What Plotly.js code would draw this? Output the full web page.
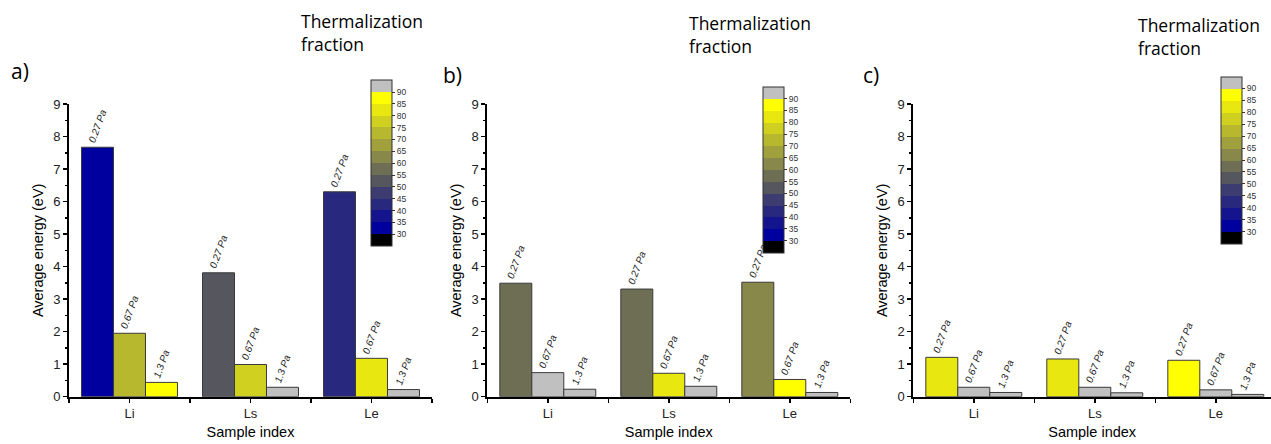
<!DOCTYPE html>
<html><head><meta charset="utf-8">
<script src="https://cdn.plot.ly/plotly-3.0.1.min.js"></script>
<style>html,body{margin:0;padding:0;background:#fff}#chart{width:1271px;height:444px}</style>
</head><body><div id="chart"></div>
<script>
// ---- data ----
const categories = ['Li', 'Ls', 'Le'];
const pressures = ['0.27 Pa', '0.67 Pa', '1.3 Pa'];
const panelLabels = ['a)', 'b)', 'c)'];

// Average energy (eV), panel a
const a_energy_027 = [7.67, 3.81, 6.30];
const a_energy_067 = [1.95, 0.99, 1.18];
const a_energy_13  = [0.44, 0.29, 0.22];
// Thermalization fraction (%), panel a
const a_frac_027 = [32, 52, 42];
const a_frac_067 = [72, 77, 82];
const a_frac_13  = [87, 92, 92];

// panel b
const b_energy_027 = [3.49, 3.31, 3.52];
const b_energy_067 = [0.74, 0.72, 0.53];
const b_energy_13  = [0.23, 0.32, 0.13];
const b_frac_027 = [57, 57, 62];
const b_frac_067 = [92, 82, 87];
const b_frac_13  = [92, 92, 92];

// panel c
const c_energy_027 = [1.21, 1.16, 1.12];
const c_energy_067 = [0.29, 0.29, 0.21];
const c_energy_13  = [0.13, 0.12, 0.07];
const c_frac_027 = [82, 82, 87];
const c_frac_067 = [92, 92, 92];
const c_frac_13  = [92, 92, 92];

// colour levels of the thermalization-fraction scale
const levelMin = 25, levelMax = 95;
const levelColors = ['#000000', '#00009f', '#14148f', '#28287f', '#3c3c70', '#56565f', '#6e6e55',
                     '#88884a', '#a0a03c', '#b8b82e', '#d0d020', '#e8e810', '#ffff00', '#c0c0c0'];
const colorbarTicks = [30, 35, 40, 45, 50, 55, 60, 65, 70, 75, 80, 85, 90];

// ---- build ----
const W = 1271, H = 444;
const colorscale = [];
levelColors.forEach((c, i) => {
  colorscale.push([i / levelColors.length, c]);
  colorscale.push([(i + 1) / levelColors.length, c]);
});

const panels = [
  {E: [a_energy_027, a_energy_067, a_energy_13], F: [a_frac_027, a_frac_067, a_frac_13]},
  {E: [b_energy_027, b_energy_067, b_energy_13], F: [b_frac_027, b_frac_067, b_frac_13]},
  {E: [c_energy_027, c_energy_067, c_energy_13], F: [c_frac_027, c_frac_067, c_frac_13]}
];

// pixel geometry
const axLeft = [69, 487.3, 913.3];
const catPx = 121;
const y0px = 396.7, y9px = 104;
const cbX = [370.7, 763.3, 1220.7];
const cbTop = [80.3, 86.7, 76.7];
const cbBot = [246, 252.7, 243.3];
const titleX = [299, 687.3, 1136];
const titleY = [7, 9, 11];
const labelX = [9, 441, 861];
const labelY = [55, 59, 59];

const xpos = categories.map((c, i) => i);
const data = [];
const layout = {
  width: W, height: H,
  margin: {l: 0, r: 0, t: 0, b: 0},
  paper_bgcolor: '#fff', plot_bgcolor: 'rgba(0,0,0,0)',
  showlegend: false,
  barmode: 'group', bargap: 0.207, bargroupgap: 0,
  font: {family: 'Liberation Sans, Arial, sans-serif', color: '#000'},
  annotations: []
};

panels.forEach((p, k) => {
  const sfx = k === 0 ? '' : String(k + 1);
  const ca = 'coloraxis' + sfx;
  p.E.forEach((vals, j) => {
    data.push({
      type: 'bar', x: xpos, y: vals,
      xaxis: 'x' + sfx, yaxis: 'y' + sfx,
      marker: {color: p.F[j], coloraxis: ca, line: {color: '#3a3a3a', width: 1}},
      text: categories.map(() => pressures[j]),
      textposition: 'outside', textangle: -70, constraintext: 'none', cliponaxis: false,
      textfont: {family: 'Liberation Sans, Arial, sans-serif', size: 10, style: 'italic', color: '#222'},
      hoverinfo: 'skip'
    });
  });
  const x0 = axLeft[k] / W;
  const xEndPx = Math.min(axLeft[k] + 3 * catPx, W);
  const rangeEnd = -0.5 + (xEndPx - axLeft[k]) / catPx;
  layout['xaxis' + sfx] = {
    domain: [x0, xEndPx / W], range: [-0.5, rangeEnd], anchor: 'y' + sfx,
    tickvals: xpos, ticktext: categories,
    showgrid: false, zeroline: false, showline: true, linecolor: '#000', linewidth: 2,
    ticks: 'outside', ticklen: 4, tickwidth: 1.5, tickcolor: '#000',
    minor: {tick0: -0.5, dtick: 1, ticks: 'outside', ticklen: 4, tickwidth: 1.5, tickcolor: '#000', showgrid: false},
    tickfont: {size: 13, color: '#222'},
    title: {text: 'Sample index', font: {size: 14.5, color: '#000'}, standoff: 7},
    fixedrange: true
  };
  layout['yaxis' + sfx] = {
    domain: [(H - y0px) / H, (H - y9px) / H], range: [0, 9], anchor: 'x' + sfx,
    dtick: 1, showgrid: false, zeroline: false, showline: true, linecolor: '#000', linewidth: 2,
    ticks: 'outside', ticklen: 4, tickwidth: 1.5, tickcolor: '#000',
    minor: {dtick: 0.5, ticks: 'outside', ticklen: 2.5, tickwidth: 1.5, tickcolor: '#000', showgrid: false},
    tickfont: {size: 13, color: '#222'},
    title: {text: 'Average energy (eV)', font: {size: 14.5, color: '#000'}, standoff: 6},
    fixedrange: true
  };
  const cbLen = cbBot[k] - cbTop[k];
  layout[ca] = {
    cmin: levelMin, cmax: levelMax, colorscale: colorscale,
    colorbar: {
      x: cbX[k] / W, xanchor: 'left', xpad: 0,
      y: 1 - (cbTop[k] + cbBot[k]) / 2 / H, yanchor: 'middle', ypad: 0,
      len: cbLen, lenmode: 'pixels', thickness: 21, thicknessmode: 'pixels',
      outlinecolor: '#333', outlinewidth: 1,
      tickvals: colorbarTicks, ticktext: colorbarTicks.map(String),
      ticks: 'outside', ticklen: 3, tickwidth: 1, tickcolor: '#333',
      tickfont: {family: 'Liberation Sans, Arial, sans-serif', size: 8.5, color: '#333'}
    }
  };
  layout.annotations.push({
    text: 'Thermalization<br>fraction', xref: 'paper', yref: 'paper',
    x: titleX[k] / W, y: 1 - titleY[k] / H, xanchor: 'left', yanchor: 'top', align: 'left',
    showarrow: false, font: {family: 'Open Sans, Noto Sans, sans-serif', size: 17.5, color: '#000'}
  });
  layout.annotations.push({
    text: panelLabels[k], xref: 'paper', yref: 'paper',
    x: labelX[k] / W, y: 1 - labelY[k] / H, xanchor: 'left', yanchor: 'top',
    showarrow: false, font: {family: 'Open Sans, Noto Sans, sans-serif', size: 21, color: '#000'}
  });
});

Plotly.newPlot('chart', data, layout, {displayModeBar: false, staticPlot: true});
</script></body></html>
